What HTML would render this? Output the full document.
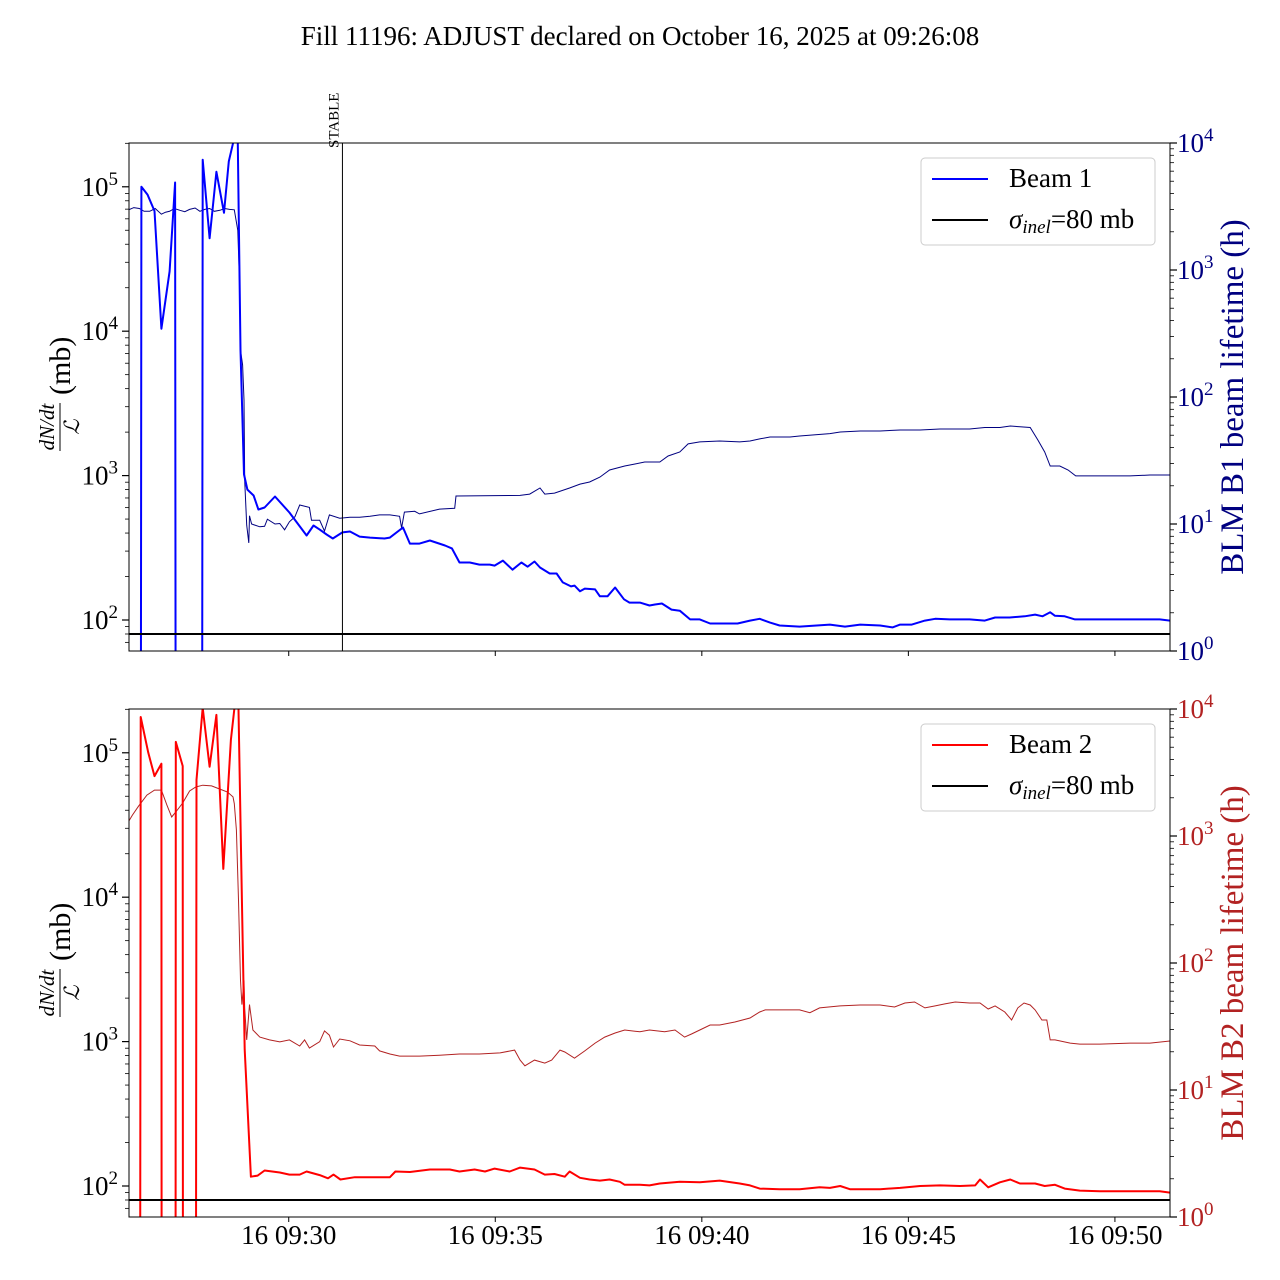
<!DOCTYPE html>
<html><head><meta charset="utf-8">
<style>
html,body{margin:0;padding:0;background:#fff;width:1280px;height:1280px;overflow:hidden;}
svg{display:block;font-family:"Liberation Serif",serif;}
</style></head>
<body>
<svg id="chart" width="1280" height="1280" viewBox="0 0 1280 1280" xmlns="http://www.w3.org/2000/svg">
<text x="640" y="45" text-anchor="middle" font-size="27">Fill 11196: ADJUST declared on October 16, 2025 at 09:26:08</text>
</svg>
<script>
// time in seconds after 09:26:00
const xTickLabels = ["16 09:30","16 09:35","16 09:40","16 09:45","16 09:50"];
const xTickSeconds = [240, 540, 840, 1140, 1440];
const xDomain = [8, 1520];
const leftDomain = [61, 201000];
const rightDomain = [1, 10000];
const leftTicks = [2,3,4,5];
const rightTicks = [0,1,2,3,4];
const sigmaInel = [80];
const stableTime = [318];

const b1Rate = [[25,1],[26,1.0e5],[35,8.8e4],[45,6.8e4],[55,1.04e4],[67,2.6e4],[75,1.07e5],[76,1],[114,1],[115,1.54e5],[125,4.4e4],[135,1.27e5],[146,6.6e4],[153,1.5e5],[159,2e5],[163,3.5e5],[166,2e5],[170,7.4e3],[175,1020],[180,800],[189,728],[196,582],[205,601],[220,716],[241,555],[266,385],[276,451],[285,423],[295,391],[304,367],[318,404],[329,410],[343,378],[358,372],[379,367],[387,372],[406,437],[416,338],[430,338],[445,355],[467,328],[477,313],[488,250],[503,250],[517,242],[532,242],[539,238],[551,258],[565,223],[578,250],[587,234],[597,254],[605,231],[619,210],[629,210],[638,182],[650,171],[655,173],[663,158],[670,165],[685,163],[692,146],[703,146],[714,168],[727,139],[735,132],[750,132],[764,126],[772,128],[782,130],[796,118],[808,116],[823,101],[837,101],[852,94.6],[866,94.6],[892,94.6],[910,99],[924,102],[939,96],[953,91.6],[982,90],[1026,93],[1048,90],[1070,93],[1099,91.6],[1117,88.8],[1128,93],[1145,93],[1164,99],[1179,102],[1200,101],[1229,101],[1251,99],[1266,104],[1287,104],[1309,106],[1324,109],[1335,106],[1346,113],[1353,107],[1367,106],[1382,101],[1404,101],[1433,101],[1462,101],[1491,101],[1505,101],[1520,99]];

const b1Life = [[7,2970],[15,3100],[23,3050],[30,2900],[38,2900],[46,3050],[55,2750],[61,2850],[67,2900],[74,3050],[82,2950],[89,2880],[96,3000],[104,3080],[111,2900],[118,3000],[125,3050],[132,2900],[140,2950],[147,3050],[154,3000],[161,2980],[166,2050],[169,695],[170,234],[173,179],[175,95],[176,22],[179,9.8],[182,7.1],[183,11.6],[186,10],[198,9.5],[205,9.6],[209,10.9],[220,10],[227,10.1],[234,9.0],[241,10.4],[249,11.4],[256,14.1],[270,13.5],[273,10.7],[285,10.7],[292,8.8],[299,11.8],[314,11.1],[329,11.3],[343,11.3],[358,11.5],[372,11.8],[387,11.8],[401,11.5],[404,9.3],[408,12.4],[423,12.6],[430,12.0],[459,13.1],[481,13.3],[483,16.6],[576,16.8],[590,17.2],[605,19.2],[612,17.2],[626,17.5],[648,19.2],[663,20.6],[677,21.4],[692,23.4],[706,26.6],[728,28.6],[743,29.7],[757,30.8],[779,30.8],[791,34.3],[808,36.9],[820,42.7],[837,44.3],[866,45],[895,44.3],[910,45],[924,46.8],[939,48.4],[968,48.4],[982,49.3],[1026,51.5],[1041,53],[1070,54],[1099,54],[1128,55],[1157,55],[1186,56],[1229,56],[1251,57.5],[1273,57.5],[1288,59.1],[1302,58.3],[1317,57.5],[1328,45.9],[1338,36.9],[1346,28.6],[1353,28.6],[1360,28.6],[1372,26.6],[1383,23.9],[1418,23.9],[1462,23.9],[1491,24.3],[1520,24.3]];

const b2Rate = [[24,1],[25,1.77e5],[36,1.0e5],[45,6.9e4],[55,8.4e4],[55.5,1],[75.5,1],[76,1.19e5],[86,8.1e4],[86.5,1],[105,1],[106,6.5e4],[115,2.05e5],[125,8e4],[135,1.83e5],[145,1.57e4],[156,1.23e5],[161,2e5],[164,3e5],[167,2e5],[172,9.6e3],[176,880],[185,116],[195,118],[205,128],[227,124],[241,120],[256,120],[266,126],[285,119],[297,113],[305,120],[315,111],[336,115],[387,115],[395,126],[416,125],[445,130],[474,130],[488,126],[510,130],[525,126],[539,132],[561,126],[576,134],[597,130],[612,120],[626,121],[641,116],[648,126],[663,114],[677,111],[692,109],[706,111],[721,107],[728,102],[750,102],[764,101],[779,104],[808,107],[837,106],[866,109],[895,104],[910,101],[924,96],[953,95],[982,95],[1011,98],[1026,97],[1041,100],[1055,95],[1099,95],[1128,97],[1157,100],[1186,101],[1215,100],[1237,101],[1244,111],[1256,98],[1273,106],[1288,111],[1302,104],[1324,104],[1338,100],[1353,102],[1367,96],[1389,93],[1418,92],[1462,92],[1505,92],[1520,90]];

const b2Life = [[7,1290],[13,1460],[22,1720],[34,2100],[45,2300],[55,2300],[63,1750],[70,1410],[76,1545],[86,1820],[96,2260],[105,2430],[115,2510],[128,2480],[140,2340],[151,2220],[159,2030],[161,1800],[164,1115],[167,313],[170,73],[172,47],[175,73],[176,44],[179,24.8],[183,47],[188,29.7],[198,26.1],[212,24.8],[227,23.9],[241,24.8],[256,22.2],[263,24.8],[270,21.4],[285,24],[292,29.2],[299,27],[305,21.8],[314,25.2],[329,24.4],[343,22.6],[365,22.2],[372,20.3],[387,19.2],[401,18.5],[430,18.5],[459,18.8],[488,19.2],[517,19.2],[547,19.6],[568,20.6],[576,17.2],[583,15.5],[597,17.2],[612,16.3],[622,17.2],[634,20.6],[641,19.9],[655,17.8],[670,20.3],[685,23.4],[699,26.1],[714,28.1],[728,29.7],[750,28.7],[764,29.7],[786,28.7],[801,29.7],[815,26.1],[825,27.6],[837,29.7],[852,32.5],[866,32.5],[888,34.3],[910,36.9],[924,41.1],[932,42.7],[953,42.7],[982,42.7],[997,40.6],[1011,44.3],[1041,45.9],[1070,46.7],[1099,46.7],[1120,45],[1135,48.4],[1149,49.3],[1164,44.3],[1179,45.9],[1193,47.6],[1208,49.3],[1229,48.4],[1244,48.4],[1256,43.4],[1266,45.9],[1280,41.1],[1290,35.6],[1299,44.3],[1308,48.4],[1317,46.7],[1324,42.7],[1334,35.6],[1341,35.6],[1346,24.8],[1353,24.8],[1375,23.4],[1389,23],[1418,23],[1462,23.4],[1491,23.4],[1520,24.3]];

const NS = "http://www.w3.org/2000/svg";
const svg = document.getElementById("chart");
const X0 = 129, X1 = 1170;
function xs(t){ return X0 + (t - xDomain[0]) / (xDomain[1] - xDomain[0]) * (X1 - X0); }
function mk(tag, attrs, parent){
  const e = document.createElementNS(NS, tag);
  for (const k in attrs) e.setAttribute(k, attrs[k]);
  (parent || svg).appendChild(e);
  return e;
}
function logScale(dom, top, bot){
  const l0 = Math.log10(dom[0]), l1 = Math.log10(dom[1]);
  return v => bot - (Math.log10(v) - l0) / (l1 - l0) * (bot - top);
}

function panel(cfg){
  const top = cfg.top, bot = cfg.bot;
  const yl = logScale(leftDomain, top, bot);
  const yr = logScale(rightDomain, top, bot);
  const g = mk("g", {});
  
  
  const cid = "clip" + cfg.name;
  const cp = mk("clipPath", {id: cid}, g);
  mk("rect", {x: X0, y: top, width: X1 - X0, height: bot - top}, cp);

  const lp = mk("path", {d: cfg.life.map((p,i)=>(i?"L":"M")+xs(p[0]).toFixed(1)+","+yr(p[1]).toFixed(1)).join(""), fill:"none", stroke: cfg.lifeColor, "stroke-width": 1, "clip-path": "url(#"+cid+")"}, g);
  
  
  const rp = mk("path", {d: cfg.rate.map((p,i)=>(i?"L":"M")+xs(p[0]).toFixed(1)+","+yl(p[1]).toFixed(1)).join(""), fill:"none", stroke: cfg.rateColor, "stroke-width": 2, "stroke-linejoin":"round", "clip-path": "url(#"+cid+")"}, g);
  
  
  const sl = mk("line", {x1: X0, x2: X1, y1: yl(sigmaInel[0]), y2: yl(sigmaInel[0]), stroke: "#000", "stroke-width": 2}, g);
  
  

  if (cfg.stable){
    const sx = xs(stableTime[0]);
    const st = mk("line", {x1: sx, x2: sx, y1: top, y2: bot, stroke: "#000", "stroke-width": 1}, g);
    
    
    const tx = mk("text", {x: 0, y: 0, "font-size": 15, transform: "translate("+(sx-4)+","+(top+5)+") rotate(-90)"}, g);
    tx.textContent = "STABLE";
    
    
  }

  const fr = mk("rect", {x: X0, y: top, width: X1 - X0, height: bot - top, fill: "none", stroke: "#000", "stroke-width": 1}, g);
  
  

  for (let d = 1; d <= 5; d++){
    for (let m = 1; m <= 9; m++){
      const v = m * Math.pow(10, d);
      if (v < leftDomain[0] || v > leftDomain[1]) continue;
      const y = yl(v);
      mk("line", {x1: X0, x2: X0 - (m===1?7:4), y1: y, y2: y, stroke: "#000", "stroke-width": m===1?1.2:0.8}, g);
    }
  }
  leftTicks.forEach(e => {
    const t = mk("text", {x: 118, y: yl(Math.pow(10,e)) + 9, "font-size": 27, "text-anchor": "end"}, g);
    
    
    t.innerHTML = '10<tspan dy="-11" font-size="19">' + e + '</tspan>';
  });
  for (let d = 0; d <= 4; d++){
    for (let m = 1; m <= 9; m++){
      const v = m * Math.pow(10, d);
      if (v > rightDomain[1]) continue;
      const y = yr(v);
      mk("line", {x1: X1, x2: X1 + (m===1?7:4), y1: y, y2: y, stroke: "#000", "stroke-width": m===1?1.2:0.8}, g);
    }
  }
  rightTicks.forEach(e => {
    const t = mk("text", {x: 1177, y: yr(Math.pow(10,e)) + 9, "font-size": 27, fill: cfg.lifeColor}, g);
    
    
    t.innerHTML = '10<tspan dy="-11" font-size="19">' + e + '</tspan>';
  });
  xTickSeconds.forEach((s,i) => {
    const x = xs(s);
    mk("line", {x1: x, x2: x, y1: bot, y2: bot + 5, stroke: "#000"}, g);
    if (cfg.xlabels){
      const t = mk("text", {x: x, y: bot + 27, "font-size": 27, "text-anchor": "middle"}, g);
      t.textContent = xTickLabels[i];
      
      
    }
  });

  const cy = (top + bot) / 2;
  const yt = mk("g", {transform: "translate(62," + cy + ") rotate(-90)"}, g);
  
  
  const n1 = mk("text", {x: -30, y: -8, "font-size": 21, "font-style": "italic", "text-anchor": "middle"}, yt);
  n1.textContent = "dN/dt";
  mk("line", {x1: -54, x2: -6, y1: -2, y2: -2, stroke: "#000", "stroke-width": 1}, yt);
  const n2 = mk("text", {x: -30, y: 17, "font-size": 21, "font-style": "italic", "text-anchor": "middle"}, yt);
  n2.textContent = "ℒ";
  const n3 = mk("text", {x: 2, y: 8, "font-size": 30}, yt);
  n3.textContent = "(mb)";

  const rt = mk("text", {x: 0, y: 0, "font-size": 33, fill: cfg.lifeColor, "text-anchor": "middle", transform: "translate(1243," + (cy + 0) + ") rotate(-90)"}, g);
  rt.textContent = cfg.rightTitle;
  
  

  const lg = mk("g", {}, g);
  
  
  const ly = top + 15;
  mk("rect", {x: 921, y: ly, width: 234, height: 87, rx: 4, fill: "#fff", stroke: "#ccc", "stroke-width": 1}, lg);
  mk("line", {x1: 932, x2: 988, y1: ly + 21, y2: ly + 21, stroke: cfg.rateColor, "stroke-width": 2}, lg);
  const t1 = mk("text", {x: 1009, y: ly + 29, "font-size": 27}, lg);
  t1.textContent = cfg.legendName;
  
  
  mk("line", {x1: 932, x2: 988, y1: ly + 62, y2: ly + 62, stroke: "#000", "stroke-width": 2}, lg);
  const t2 = mk("text", {x: 1009, y: ly + 70, "font-size": 27}, lg);
  t2.innerHTML = '<tspan font-style="italic">σ</tspan><tspan font-size="19" dy="5" font-style="italic">inel</tspan><tspan dy="-5">=80 mb</tspan>';
  
  
}

panel({name: "beam1-panel", top: 143, bot: 651, rate: b1Rate, life: b1Life, rateColor: "#0000ff", lifeColor: "#000080", rateName: "beam1-rate-line", lifeName: "beam1-lifetime-line", rightTitle: "BLM B1 beam lifetime (h)", legendName: "Beam 1", stable: true, xlabels: false});
panel({name: "beam2-panel", top: 709, bot: 1217, rate: b2Rate, life: b2Life, rateColor: "#ff0000", lifeColor: "#b22222", rateName: "beam2-rate-line", lifeName: "beam2-lifetime-line", rightTitle: "BLM B2 beam lifetime (h)", legendName: "Beam 2", stable: false, xlabels: true});
</script>
</body></html>
